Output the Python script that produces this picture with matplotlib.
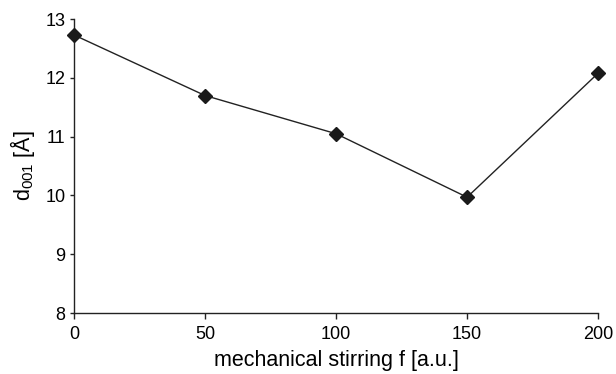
import matplotlib
matplotlib.use("Agg")
import matplotlib.pyplot as plt

plt.rcParams['font.family'] = ['Liberation Sans', 'DejaVu Sans']
plt.rcParams['mathtext.fontset'] = 'custom'
plt.rcParams['mathtext.rm'] = 'Liberation Sans'
plt.rcParams['mathtext.it'] = 'Liberation Sans'

stirring = [0, 50, 100, 150, 200]
d001 = [12.73, 11.70, 11.05, 9.97, 12.08]
x_ticks = [0, 50, 100, 150, 200]
y_ticks = [8, 9, 10, 11, 12, 13]

fig = plt.figure(figsize=(6.16, 3.74), dpi=100)
ax = fig.add_axes([0.120, 0.163, 0.851, 0.786])

ax.plot(stirring, d001, color='#222222', linewidth=1.0,
        marker='D', markersize=7.5, markerfacecolor='#1a1a1a',
        markeredgecolor='#1a1a1a', clip_on=False, zorder=3)

ax.set_xlim(0, 200)
ax.set_ylim(8, 13)
ax.set_xticks(x_ticks)
ax.set_yticks(y_ticks)

for side in ('top', 'right'):
    ax.spines[side].set_visible(False)
for side in ('left', 'bottom'):
    ax.spines[side].set_color('#222222')
    ax.spines[side].set_linewidth(1.0)

ax.tick_params(axis='both', direction='out', width=1.0,
               colors='#222222', labelsize=13, labelcolor='black')
ax.tick_params(axis='x', length=4.5, pad=5)
ax.tick_params(axis='y', length=3, pad=3)

ax.set_xlabel('mechanical stirring f [a.u.]', fontsize=15.5, labelpad=5)
ax.set_ylabel(r'd$_{001}$ [Å]', fontsize=15.5, labelpad=6)

fig.savefig('out.png', dpi=100)
